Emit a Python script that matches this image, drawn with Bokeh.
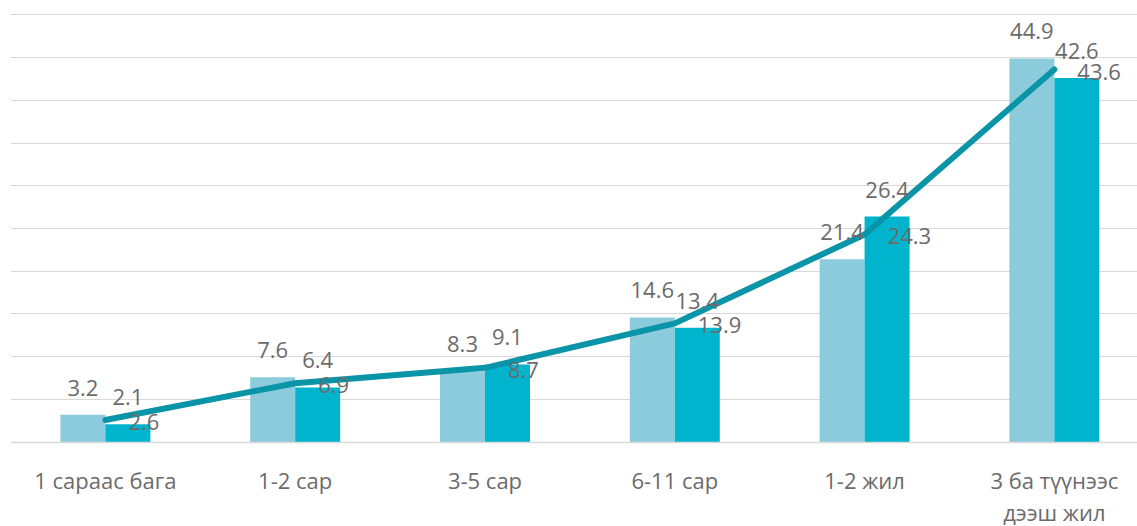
from bokeh.plotting import figure
from bokeh.models import Range1d, FixedTicker, ColumnDataSource
from bokeh.core.properties import value
from bokeh.embed import file_html
from bokeh.resources import INLINE

categories = ["1 сараас бага", "1-2 сар", "3-5 сар", "6-11 сар", "1-2 жил", "3 ба түүнээс\nдээш жил"]
series_a = [3.2, 7.6, 8.3, 14.6, 21.4, 44.9]   # light bars
series_b = [2.1, 6.4, 9.1, 13.4, 26.4, 42.6]   # teal bars
series_line = [2.6, 6.9, 8.7, 13.9, 24.3, 43.6]
y_ticks = [5, 10, 15, 20, 25, 30, 35, 40, 45, 50]

LIGHT = "#8ccbdb"
TEAL = "#00b4cd"
LINE = "#0a94a8"
GREY = "#6b6b6b"
FONT = "Open Sans"

centers = [i + 0.5 for i in range(len(categories))]
off = 0.1185
bw = 0.237

src = ColumnDataSource(dict(
    xc=centers,
    xa=[c - off for c in centers],
    xb=[c + off for c in centers],
    a=series_a, b=series_b, l=series_line,
    la=["%.1f" % v for v in series_a],
    lb=["%.1f" % v for v in series_b],
    ll=["%.1f" % v for v in series_line],
))

p = figure(width=1137, height=526, output_backend="svg", toolbar_location=None,
           x_range=Range1d(0, 5.938), y_range=Range1d(-9.862, 51.673),
           min_border_left=10, min_border_right=0, min_border_top=0, min_border_bottom=0)
p.outline_line_color = None
p.background_fill_color = "white"
p.border_fill_color = "white"

p.yaxis.visible = False
p.ygrid.ticker = FixedTicker(ticks=y_ticks)
p.ygrid.grid_line_color = "#d9d9d9"
p.ygrid.grid_line_width = 1
p.xgrid.visible = False

xa = p.xaxis[0]
xa.fixed_location = 0
xa.ticker = FixedTicker(ticks=centers)
xa.major_label_overrides = {c: cat for c, cat in zip(centers, categories)}
xa.axis_line_color = "#d9d9d9"
xa.axis_line_width = 1.5
xa.major_tick_line_color = None
xa.minor_tick_line_color = None
xa.major_label_text_font = FONT
xa.major_label_text_font_size = "22px"
xa.major_label_text_color = GREY
xa.major_label_text_line_height = 1.05
xa.major_label_standoff = 17

p.vbar(x="xa", top="a", width=bw, source=src, fill_color=LIGHT, line_color=None)
p.vbar(x="xb", top="b", width=bw, source=src, fill_color=TEAL, line_color=None)
p.line(x="xc", y="l", source=src, line_color=LINE, line_width=6, line_cap="round", line_join="round")

common = dict(text_font=value(FONT), text_font_size="22px", text_color=GREY, source=src)
p.text(x="xa", y="a", text="la", text_align="center", text_baseline="alphabetic", y_offset=-27, **common)
p.text(x="xb", y="b", text="lb", text_align="center", text_baseline="alphabetic", y_offset=-27, **common)
p.text(x="xc", y="l", text="ll", text_align="left", text_baseline="alphabetic", x_offset=23, y_offset=2, **common)

open("out.html", "w").write(file_html(p, INLINE))
